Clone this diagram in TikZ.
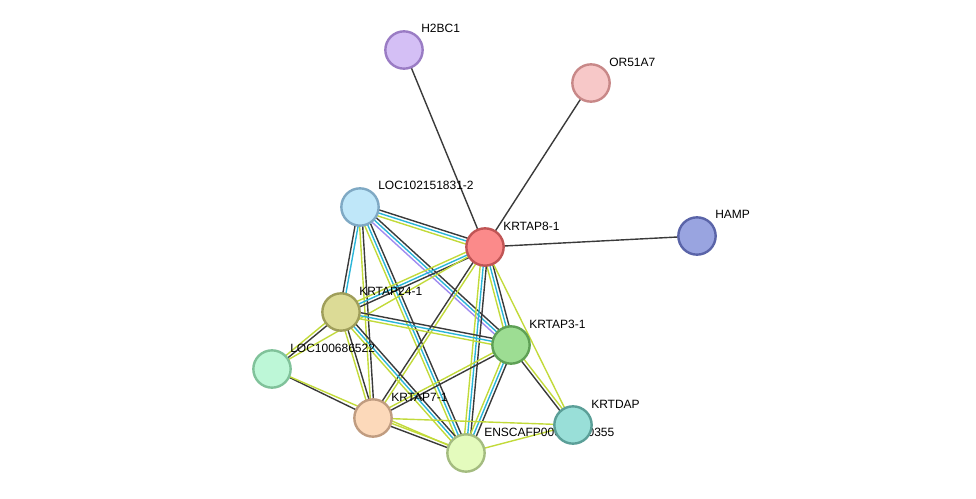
\documentclass[tikz,border=0pt]{standalone}
\usepackage{fontspec}
\setmainfont{Liberation Sans}
\usetikzlibrary{calc}
\definecolor{cy}{HTML}{C2DA3A}
\definecolor{cb}{HTML}{2BB5D8}
\definecolor{ck}{HTML}{3A3A3A}
\definecolor{cp}{HTML}{A08BF0}
\tikzset{
  prot/.style={circle,minimum size=28pt,inner sep=0,line width=1.8pt},
  lab/.style={anchor=west,inner sep=0,font=\fontsize{9pt}{10pt}\selectfont},
  ed/.style={line width=1.05pt}
}
% \edg{a}{b}{n}{c1,c2,...}
\newcommand{\edg}[4]{%
  \foreach \c [count=\i] in {#4} {%
    \pgfmathsetmacro{\off}{(\i-1-(#3-1)/2)*2.3}%
    \draw[ed,\c] ($(#1)!\off pt!90:(#2)$) -- ($(#2)!\off pt!-90:(#1)$);
  }}
\begin{document}
\begin{tikzpicture}[x=0.75pt,y=-0.75pt]
\useasboundingbox (0,0) rectangle (976,499);
\coordinate (h2) at (404,50);
\coordinate (or) at (591,83);
\coordinate (lc) at (360,207);
\coordinate (k8) at (485,247);
\coordinate (hp) at (697,236);
\coordinate (k24) at (341,312);
\coordinate (k3) at (511,345);
\coordinate (l6) at (272,369);
\coordinate (k7) at (373,418);
\coordinate (kd) at (573,425);
\coordinate (en) at (466,453);
% edges
\edg{h2}{k8}{1}{ck}
\edg{or}{k8}{1}{ck}
\edg{hp}{k8}{1}{ck}
\edg{lc}{k8}{3}{cy,cb,ck}
\edg{lc}{k3}{3}{cp,cb,ck}
\edg{lc}{k24}{2}{ck,cb}
\edg{lc}{k7}{2}{cy,ck}
\edg{lc}{en}{3}{cy,cb,ck}
\edg{k8}{k24}{3}{cy,cb,ck}
\edg{k8}{k3}{3}{cy,cb,ck}
\edg{k8}{k7}{2}{ck,cy}
\edg{k8}{en}{3}{cy,cb,ck}
\edg{k8}{kd}{1}{cy}
\edg{k8}{l6}{1}{cy}
\edg{k24}{k3}{3}{cy,cb,ck}
\edg{k24}{l6}{2}{cy,ck}
\edg{k24}{k7}{2}{cy,ck}
\edg{k24}{en}{3}{cy,cb,ck}
\edg{k3}{k7}{2}{cy,ck}
\edg{k3}{en}{3}{cy,cb,ck}
\edg{k3}{kd}{2}{ck,cy}
\edg{l6}{k7}{1}{ck}
\edg{l6}{en}{1}{cy}
\edg{k7}{en}{2}{ck,cy}
\edg{k7}{kd}{1}{cy}
\edg{en}{kd}{1}{cy}
% nodes
\node[prot,draw={rgb,255:red,154;green,124;blue,196},fill={rgb,255:red,212;green,191;blue,245}] (H2) at (h2) {};
\node[prot,draw={rgb,255:red,200;green,136;blue,136},fill={rgb,255:red,247;green,200;blue,200}] (OR) at (or) {};
\node[prot,draw={rgb,255:red,127;green,169;blue,196},fill={rgb,255:red,191;green,231;blue,249}] (LC) at (lc) {};
\node[prot,draw={rgb,255:red,192;green,85;blue,85},fill={rgb,255:red,251;green,138;blue,138}] (K8) at (k8) {};
\node[prot,draw={rgb,255:red,90;green,100;blue,168},fill={rgb,255:red,153;green,164;blue,224}] (HP) at (hp) {};
\node[prot,draw={rgb,255:red,159;green,158;blue,90},fill={rgb,255:red,220;green,219;blue,150}] (K24) at (k24) {};
\node[prot,draw={rgb,255:red,94;green,160;blue,85},fill={rgb,255:red,157;green,221;blue,147}] (K3) at (k3) {};
\node[prot,draw={rgb,255:red,128;green,194;blue,154},fill={rgb,255:red,189;green,247;blue,215}] (L6) at (l6) {};
\node[prot,draw={rgb,255:red,192;green,156;blue,128},fill={rgb,255:red,252;green,217;blue,186}] (K7) at (k7) {};
\node[prot,draw={rgb,255:red,164;green,188;blue,128},fill={rgb,255:red,228;green,251;blue,189}] (EN) at (en) {};
% labels
\node[lab] (tH2) at (421,28) {H2BC1};
\node[lab] (tOR) at (609,62) {OR51A7};
\node[lab] (tLC) at (378,185) {LOC102151831-2};
\node[lab] (tK8) at (503,226) {KRTAP8-1};
\node[lab] (tHP) at (715,214) {HAMP};
\node[lab] (tK24) at (359,291) {KRTAP24-1};
\node[lab] (tK3) at (529,324) {KRTAP3-1};
\node[lab] (tL6) at (290,348) {LOC100686522};
\node[lab] (tK7) at (391,397) {KRTAP7-1};
\node[lab] (tKD) at (591,404) {KRTDAP};
\node[lab] (tEN) at (484,432) {ENSCAFP00000030355};
\node[prot,draw={rgb,255:red,91;green,159;blue,152},fill={rgb,255:red,153;green,223;blue,216}] (KD) at (kd) {};
\end{tikzpicture}
\end{document}
